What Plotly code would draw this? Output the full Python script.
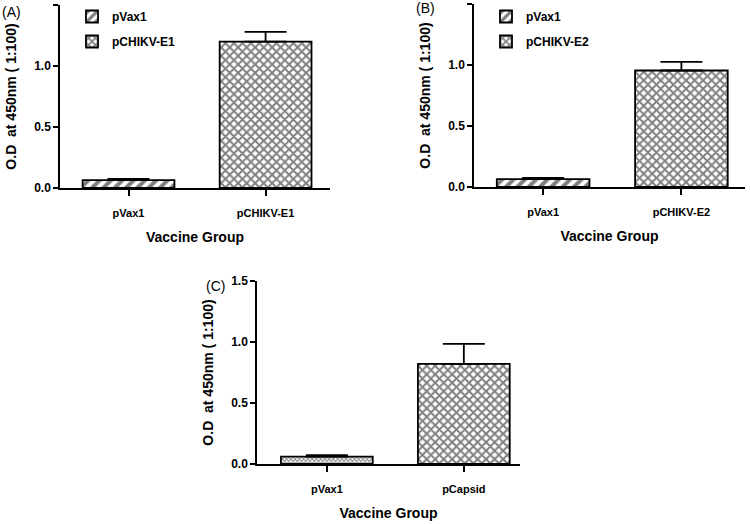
import plotly.graph_objects as go

# ---- data ----
groups_a = ["pVax1", "pCHIKV-E1"]
means_a = [0.065, 1.20]
err_a = [0.010, 0.08]

groups_b = ["pVax1", "pCHIKV-E2"]
means_b = [0.065, 0.955]
err_b = [0.010, 0.07]

groups_c = ["pVax1", "pCapsid"]
means_c = [0.060, 0.82]
err_c = [0.013, 0.165]

y_ticks = [0.0, 0.5, 1.0, 1.5]
y_ticklabels = ["0.0", "0.5", "1.0", "1.5"]

W, H = 750, 524
FONT = "Liberation Sans, Arial, sans-serif"

def px_x(p):
    return p / W

def px_y(p):
    return 1 - p / H

fig = go.Figure()

hatch = dict(shape="/", fgcolor="black", bgcolor="white", size=8, solidity=0.5)
checker = dict(shape="x", fgcolor="black", bgcolor="white", size=6, solidity=0.55)
fine = dict(shape="x", fgcolor="black", bgcolor="white", size=3, solidity=0.5)

def add_panel(groups, means, errs, xa, ya, patterns, legend, showlegend):
    for i, (g, m, e) in enumerate(zip(groups, means, errs)):
        fig.add_trace(go.Bar(
            x=[g], y=[m], name=g,
            xaxis=xa, yaxis=ya,
            width=0.67,
            marker=dict(color="white", line=dict(color="black", width=1.8),
                        pattern=patterns[i]),
            error_y=dict(type="data", symmetric=False, array=[e], arrayminus=[0],
                         color="black", thickness=1.8, width=21),
            showlegend=showlegend, legend=legend, legendgroup=legend + g,
            hoverinfo="skip",
        ))

add_panel(groups_a, means_a, err_a, "x", "y", [hatch, checker], "legend", True)
add_panel(groups_b, means_b, err_b, "x2", "y2", [hatch, checker], "legend2", True)
add_panel(groups_c, means_c, err_c, "x3", "y3", [fine, checker], "legend", False)

xtickfont = dict(family=FONT, size=11, color="black", weight="bold")
ytickfont = dict(family=FONT, size=12, color="black", weight="bold")
xtitlefont = dict(family=FONT, size=14, color="black", weight="bold")
ytitlefont = dict(family=FONT, size=14, color="black", weight="bold")

def xaxis_cfg(left, right, rng):
    return dict(domain=[px_x(left), px_x(right)], type="category", range=rng,
                showline=True, linecolor="black", linewidth=1.5,
                ticks="outside", ticklen=6, tickwidth=1.5, tickcolor="black",
                tickfont=xtickfont, ticklabelstandoff=8, showgrid=False, zeroline=False,
                title=dict(text="Vaccine Group", font=xtitlefont, standoff=14),
                fixedrange=True)

def yaxis_cfg(top, bottom):
    return dict(domain=[px_y(bottom), px_y(top)], range=[0, 1.5],
                tickvals=y_ticks, ticktext=y_ticklabels,
                showline=True, linecolor="black", linewidth=1.5,
                ticks="outside", ticklen=5, tickwidth=1.5, tickcolor="black",
                tickfont=ytickfont, showgrid=False, zeroline=False,
                title=dict(text="O.D  at 450nm ( 1:100)", font=ytitlefont, standoff=14),
                fixedrange=True)

xa = xaxis_cfg(60, 330, [-0.5, 1.47]); xa["anchor"] = "y"
xb = xaxis_cfg(474, 745, [-0.5, 1.46]); xb["anchor"] = "y2"
xc = xaxis_cfg(257, 520, [-0.51, 1.41]); xc["anchor"] = "y3"
ya = yaxis_cfg(5, 188); ya["anchor"] = "x"
yb = yaxis_cfg(4, 187); yb["anchor"] = "x2"
yc = yaxis_cfg(281, 464); yc["anchor"] = "x3"

legfont = dict(family=FONT, size=12, color="black", weight="bold")

fig.update_layout(
    width=W, height=H,
    margin=dict(l=0, r=0, t=0, b=0, autoexpand=False),
    paper_bgcolor="white", plot_bgcolor="white",
    barmode="overlay",
    xaxis=xa, yaxis=ya, xaxis2=xb, yaxis2=yb, xaxis3=xc, yaxis3=yc,
    legend=dict(x=px_x(72), y=px_y(2), xanchor="left", yanchor="top",
                font=legfont, bgcolor="rgba(0,0,0,0)", tracegroupgap=6,
                itemwidth=30),
    legend2=dict(x=px_x(486), y=px_y(2), xanchor="left", yanchor="top",
                 font=legfont, bgcolor="rgba(0,0,0,0)", tracegroupgap=6,
                 itemwidth=30),
    annotations=[
        dict(text="(A)", x=px_x(0), y=px_y(12), xref="paper", yref="paper",
             xanchor="left", yanchor="middle", showarrow=False,
             font=dict(family=FONT, size=14, color="black")),
        dict(text="(B)", x=px_x(414), y=px_y(8), xref="paper", yref="paper",
             xanchor="left", yanchor="middle", showarrow=False,
             font=dict(family=FONT, size=14, color="black")),
        dict(text="(C)", x=px_x(204), y=px_y(286), xref="paper", yref="paper",
             xanchor="left", yanchor="middle", showarrow=False,
             font=dict(family=FONT, size=14, color="black")),
    ],
)

fig.write_html("out.html", config={"displayModeBar": False},
               post_script="document.body.style.margin='0';")
